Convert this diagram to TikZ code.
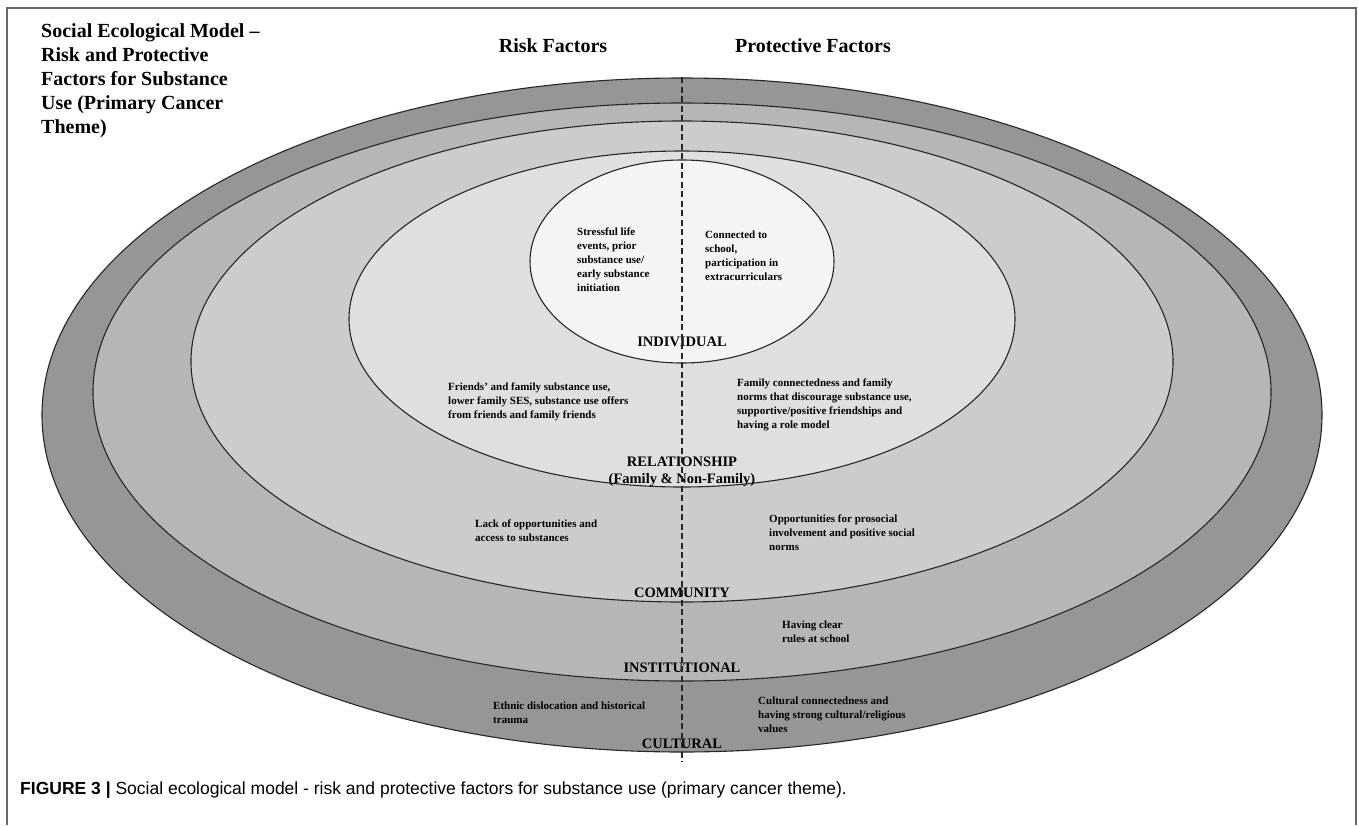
\documentclass[tikz,border=0pt]{standalone}
\usepackage{fontspec}
\setmainfont{Liberation Serif}
\newfontfamily\captionfont{Liberation Sans}
\usetikzlibrary{calc}

\definecolor{culturalgray}{gray}{0.59}
\definecolor{institgray}{gray}{0.715}
\definecolor{commungray}{gray}{0.80}
\definecolor{relategray}{gray}{0.875}
\definecolor{indivgray}{gray}{0.955}

\begin{document}
\begin{tikzpicture}[x=1pt, y=-1pt]

        % Styles for the rings, the level names and the factor texts
        \tikzset{
            ring/.style={draw=black!85, line width=1.1pt},
            levelname/.style={font=\fontsize{14.5}{17}\selectfont\bfseries, align=center, inner sep=0pt},
            factor/.style={font=\fontsize{11}{14}\selectfont\bfseries, align=left, anchor=west, inner sep=0pt},
            heading/.style={font=\fontsize{20}{24}\selectfont\bfseries, inner sep=0pt},
            divider/.style={black!85, line width=1.5pt, dash pattern=on 6pt off 3.5pt}
        }

        \useasboundingbox (0,0) rectangle (1358,825);

        % Frame round the figure, open at the bottom
        \draw[black!60, line width=1.5pt] (7,825) -- (7,8) -- (1356,8) -- (1356,825);

        % Nested rings, from cultural (outside) to individual (inside)
        \begin{scope}[ring]
            \draw[fill=culturalgray] (682,415) ellipse [x radius=640, y radius=337];
            \draw[fill=institgray] (682,392) ellipse [x radius=589, y radius=289];
            \draw[fill=commungray] (682,361.5) ellipse [x radius=491, y radius=240.5];
            \draw[fill=relategray] (682,319) ellipse [x radius=333, y radius=168];
            \draw[fill=indivgray] (682,261.5) ellipse [x radius=152, y radius=101.5];
        \end{scope}

        % Title and the two column headings
        \node (title) at (41,81) [heading, anchor=west, align=left]
            {Social Ecological Model --\\Risk and Protective\\Factors for Substance\\Use (Primary Cancer\\Theme)};
        \node (riskhead) at (553,46) [heading] {Risk Factors};
        \node (protecthead) at (813,46) [heading] {Protective Factors};

        % Risk factors (left) and protective factors (right) for each level
        \node (stressful) at (577,259.5) [factor]
            {Stressful life\\events, prior\\substance use/\\early substance\\initiation};
        \node (connected) at (705,255.5) [factor]
            {Connected to\\school,\\participation in\\extracurriculars};
        \node (friends) at (448,402) [factor]
            {Friends' and family substance use,\\lower family SES, substance use offers\\from friends and family friends};
        \node (famconn) at (737,405) [factor]
            {Family connectedness and family\\norms that discourage substance use,\\supportive/positive friendships and\\having a role model};
        \node (lack) at (475,530.5) [factor]
            {Lack of opportunities and\\access to substances};
        \node (prosocial) at (769,533) [factor]
            {Opportunities for prosocial\\involvement and positive social\\norms};
        \node (rules) at (782,631.5) [factor]
            {Having clear\\rules at school};
        \node (ethnic) at (493,713) [factor]
            {Ethnic dislocation and historical\\trauma};
        \node (cultconn) at (758,714.5) [factor]
            {Cultural connectedness and\\having strong cultural/religious\\values};

        % Level names
        \node (individual) at (682,342) [levelname] {INDIVIDUAL};
        \node (relationship) at (682,471.5) [levelname] {RELATIONSHIP\\(Family \& Non-Family)};
        \node (community) at (682,593) [levelname] {COMMUNITY};
        \node (institutional) at (682,668) [levelname] {INSTITUTIONAL};
        \node (cultural) at (682,744) [levelname] {CULTURAL};

        % Dashed line between risk and protective side
        \coordinate (divtop) at (682,77);
        \coordinate (divbot) at (682,762);
        \draw[divider] (divtop) -- (divbot);

        % Caption
        \node (caption) at (20,790) [anchor=west, inner sep=0pt, font=\captionfont\fontsize{17.5}{20}\selectfont]
            {\textbf{FIGURE 3 |} Social ecological model - risk and protective factors for substance use (primary cancer theme).};

\end{tikzpicture}
\end{document}
